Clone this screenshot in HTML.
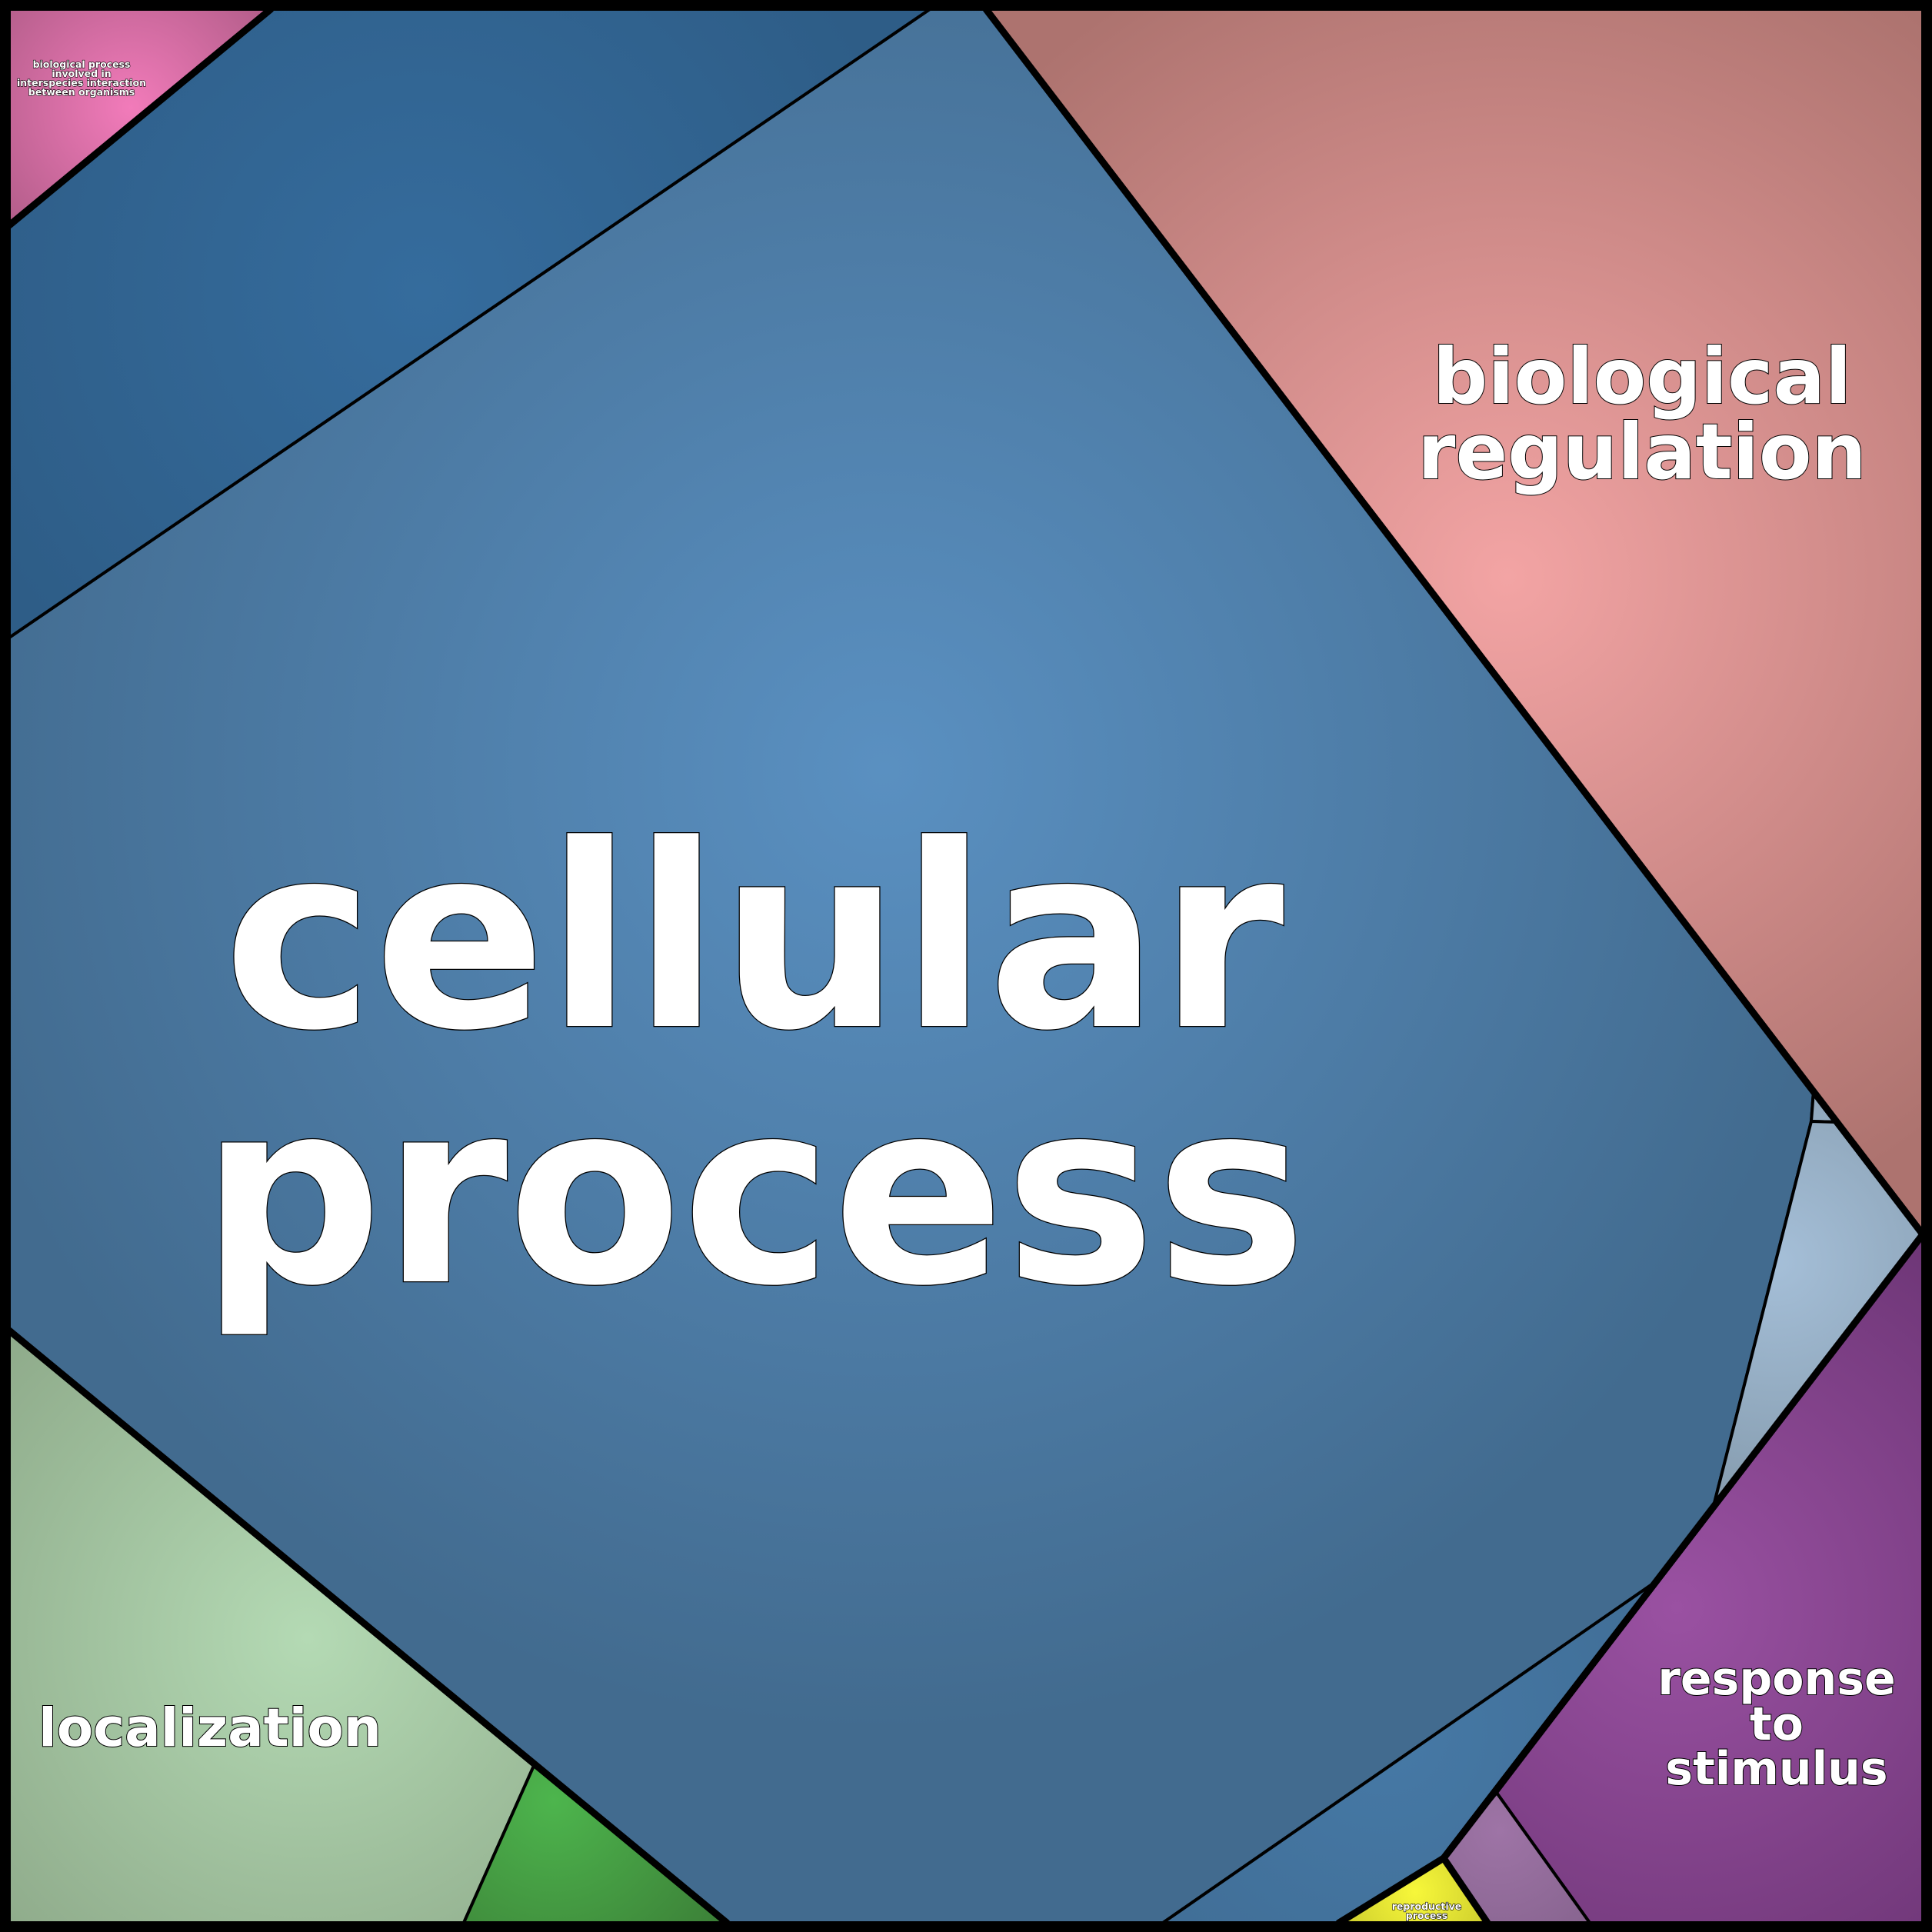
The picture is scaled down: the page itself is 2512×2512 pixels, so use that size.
<!DOCTYPE html>
<html><head><meta charset="utf-8"><style>html,body{margin:0;padding:0;background:#000}svg{display:block}</style></head>
<body>
<svg width="2512" height="2512" viewBox="0 0 2512 2512" xmlns="http://www.w3.org/2000/svg">
<defs>
<radialGradient id="gCell" gradientUnits="userSpaceOnUse" cx="1150" cy="1000" r="1250"><stop offset="0" stop-color="#5a90c1"/><stop offset="1" stop-color="#426b8f"/></radialGradient>
<radialGradient id="gTL" gradientUnits="userSpaceOnUse" cx="550" cy="380" r="650"><stop offset="0" stop-color="#356c9d"/><stop offset="1" stop-color="#2e5d87"/></radialGradient>
<radialGradient id="gBR" gradientUnits="userSpaceOnUse" cx="1800" cy="2250" r="500"><stop offset="0" stop-color="#4679a6"/><stop offset="1" stop-color="#3f6b92"/></radialGradient>
<radialGradient id="gReg" gradientUnits="userSpaceOnUse" cx="1960" cy="750" r="900"><stop offset="0" stop-color="#f3a4a4"/><stop offset="1" stop-color="#ad736f"/></radialGradient>
<radialGradient id="gLoc" gradientUnits="userSpaceOnUse" cx="400" cy="2130" r="650"><stop offset="0" stop-color="#b4dab4"/><stop offset="1" stop-color="#88a283"/></radialGradient>
<radialGradient id="gGreen" gradientUnits="userSpaceOnUse" cx="720" cy="2340" r="300"><stop offset="0" stop-color="#4db54d"/><stop offset="1" stop-color="#3a7a35"/></radialGradient>
<radialGradient id="gPur" gradientUnits="userSpaceOnUse" cx="2180" cy="2090" r="600"><stop offset="0" stop-color="#9a51a2"/><stop offset="1" stop-color="#6c3575"/></radialGradient>
<radialGradient id="gLP" gradientUnits="userSpaceOnUse" cx="1950" cy="2380" r="200"><stop offset="0" stop-color="#9e74a6"/><stop offset="1" stop-color="#83618b"/></radialGradient>
<radialGradient id="gY" gradientUnits="userSpaceOnUse" cx="1840" cy="2460" r="130"><stop offset="0" stop-color="#f7f73a"/><stop offset="1" stop-color="#c3c32a"/></radialGradient>
<radialGradient id="gLB" gradientUnits="userSpaceOnUse" cx="2310" cy="1640" r="350"><stop offset="0" stop-color="#a5bfd8"/><stop offset="1" stop-color="#8399ab"/></radialGradient>
<radialGradient id="gPink" gradientUnits="userSpaceOnUse" cx="170" cy="140" r="220"><stop offset="0" stop-color="#f27bba"/><stop offset="1" stop-color="#b25d89"/></radialGradient>
</defs>
<rect width="2512" height="2512" fill="#000"/>
<g stroke="#000" stroke-width="4" stroke-linejoin="round">
<polygon fill="url(#gCell)" points="1209,12 1282,12 2358,1418 2355,1458 2227,1962 2155,2055 1512,2500 945,2500 12,1730 12,829"/>
<polygon fill="url(#gTL)" points="352,12 1209,12 12,829 12,293"/>
<polygon fill="url(#gPink)" points="12,12 352,12 12,293"/>
<polygon fill="url(#gReg)" points="1282,12 2500,12 2500,1605 2390,1459 2358,1418"/>
<polygon fill="url(#gLB)" points="2358,1418 2390,1459 2355,1458"/>
<polygon fill="url(#gLB)" points="2355,1458 2390,1459 2500,1605 2227,1962"/>
<polygon fill="url(#gPur)" points="2500,1605 2500,2500 2067,2500 1946,2331"/>
<polygon fill="url(#gLP)" points="1946,2331 2067,2500 1934,2500 1877,2416"/>
<polygon fill="url(#gY)" points="1877,2416 1934,2500 1741,2500"/>
<polygon fill="url(#gBR)" points="2155,2055 1877,2416 1741,2500 1512,2500"/>
<polygon fill="url(#gLoc)" points="12,1730 694,2296 603,2500 12,2500"/>
<polygon fill="url(#gGreen)" points="694,2296 945,2500 603,2500"/>
</g>
<g stroke="#000" stroke-width="9" fill="none" stroke-linejoin="round" stroke-linecap="round">
<polyline points="12,293 352,12"/>
<polyline points="1282,12 2500,1605 1877,2416 1741,2500"/>
<polyline points="12,1730 945,2500"/>
<polyline points="1877,2416 1934,2500"/>
</g>
<rect x="6" y="6" width="2500" height="2500" fill="none" stroke="#000" stroke-width="12"/>
<g font-family="DejaVu Sans, Liberation Sans, sans-serif" font-weight="bold" fill="#fff" stroke="#000" text-anchor="middle" paint-order="stroke">
<text x="980" y="1334" font-size="330" stroke-width="2.5">cellular</text>
<text x="980" y="1666" font-size="330" stroke-width="2.5">process</text>
<text x="2135" y="524" font-size="100" stroke-width="2">biological</text>
<text x="2135" y="622" font-size="100" stroke-width="2">regulation</text>
<text x="273" y="2270" font-size="69" stroke-width="2">localization</text>
<text x="2310" y="2203" font-size="60" stroke-width="2">response</text>
<text x="2310" y="2262" font-size="60" stroke-width="2">to</text>
<text x="2310" y="2320" font-size="60" stroke-width="2">stimulus</text>
<g font-size="12.5" stroke-width="1.2">
<text x="106" y="88">biological process</text>
<text x="106" y="100">involved in</text>
<text x="106" y="112">interspecies interaction</text>
<text x="106" y="124">between organisms</text>
<text x="1855" y="2483">reproductive</text>
<text x="1855" y="2495">process</text>
</g>
</g>
</svg>
</body></html>
